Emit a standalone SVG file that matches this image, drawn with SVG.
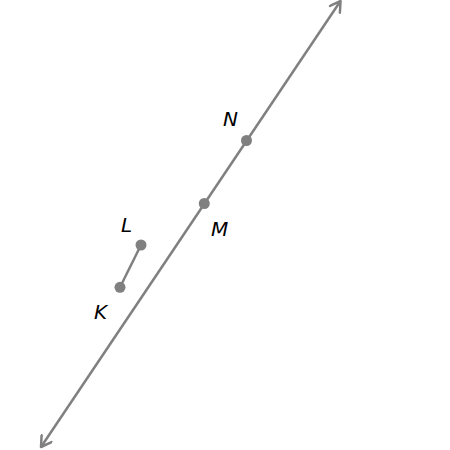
<svg xmlns="http://www.w3.org/2000/svg" width="450" height="450" viewBox="0 0 450 450">
<style>
.ln{stroke:#808080;stroke-width:2.5;fill:none}
.pt{fill:#808080}
.lb{font-family:"DejaVu Sans",sans-serif;font-style:italic;font-size:20px;fill:#000}
</style>
<defs>
<marker id="arr" viewBox="-12 -7 14 14" markerWidth="14" markerHeight="14" refX="0" refY="0" orient="auto-start-reverse" markerUnits="userSpaceOnUse">
<path d="M-10,-6 L0,0 L-10,6" fill="none" stroke="#808080" stroke-width="2.5" stroke-linecap="round" stroke-linejoin="round"/>
</marker>
</defs>
<g id="connectors">
<line class="ln" x1="41" y1="447" x2="340.5" y2="1" marker-start="url(#arr)" marker-end="url(#arr)"/>
<line class="ln" x1="120" y1="287.3" x2="141" y2="245"/>
</g>
<g id="N"><circle class="pt" cx="246.5" cy="140.5" r="5.5"/><text class="lb" x="223" y="126">N</text></g>
<g id="M"><circle class="pt" cx="204.3" cy="203.5" r="5.5"/><text class="lb" x="211" y="236">M</text></g>
<g id="L"><circle class="pt" cx="141" cy="245" r="5.5"/><text class="lb" x="121" y="232">L</text></g>
<g id="K"><circle class="pt" cx="120" cy="287.3" r="5.5"/><text class="lb" x="94" y="319">K</text></g>
</svg>
